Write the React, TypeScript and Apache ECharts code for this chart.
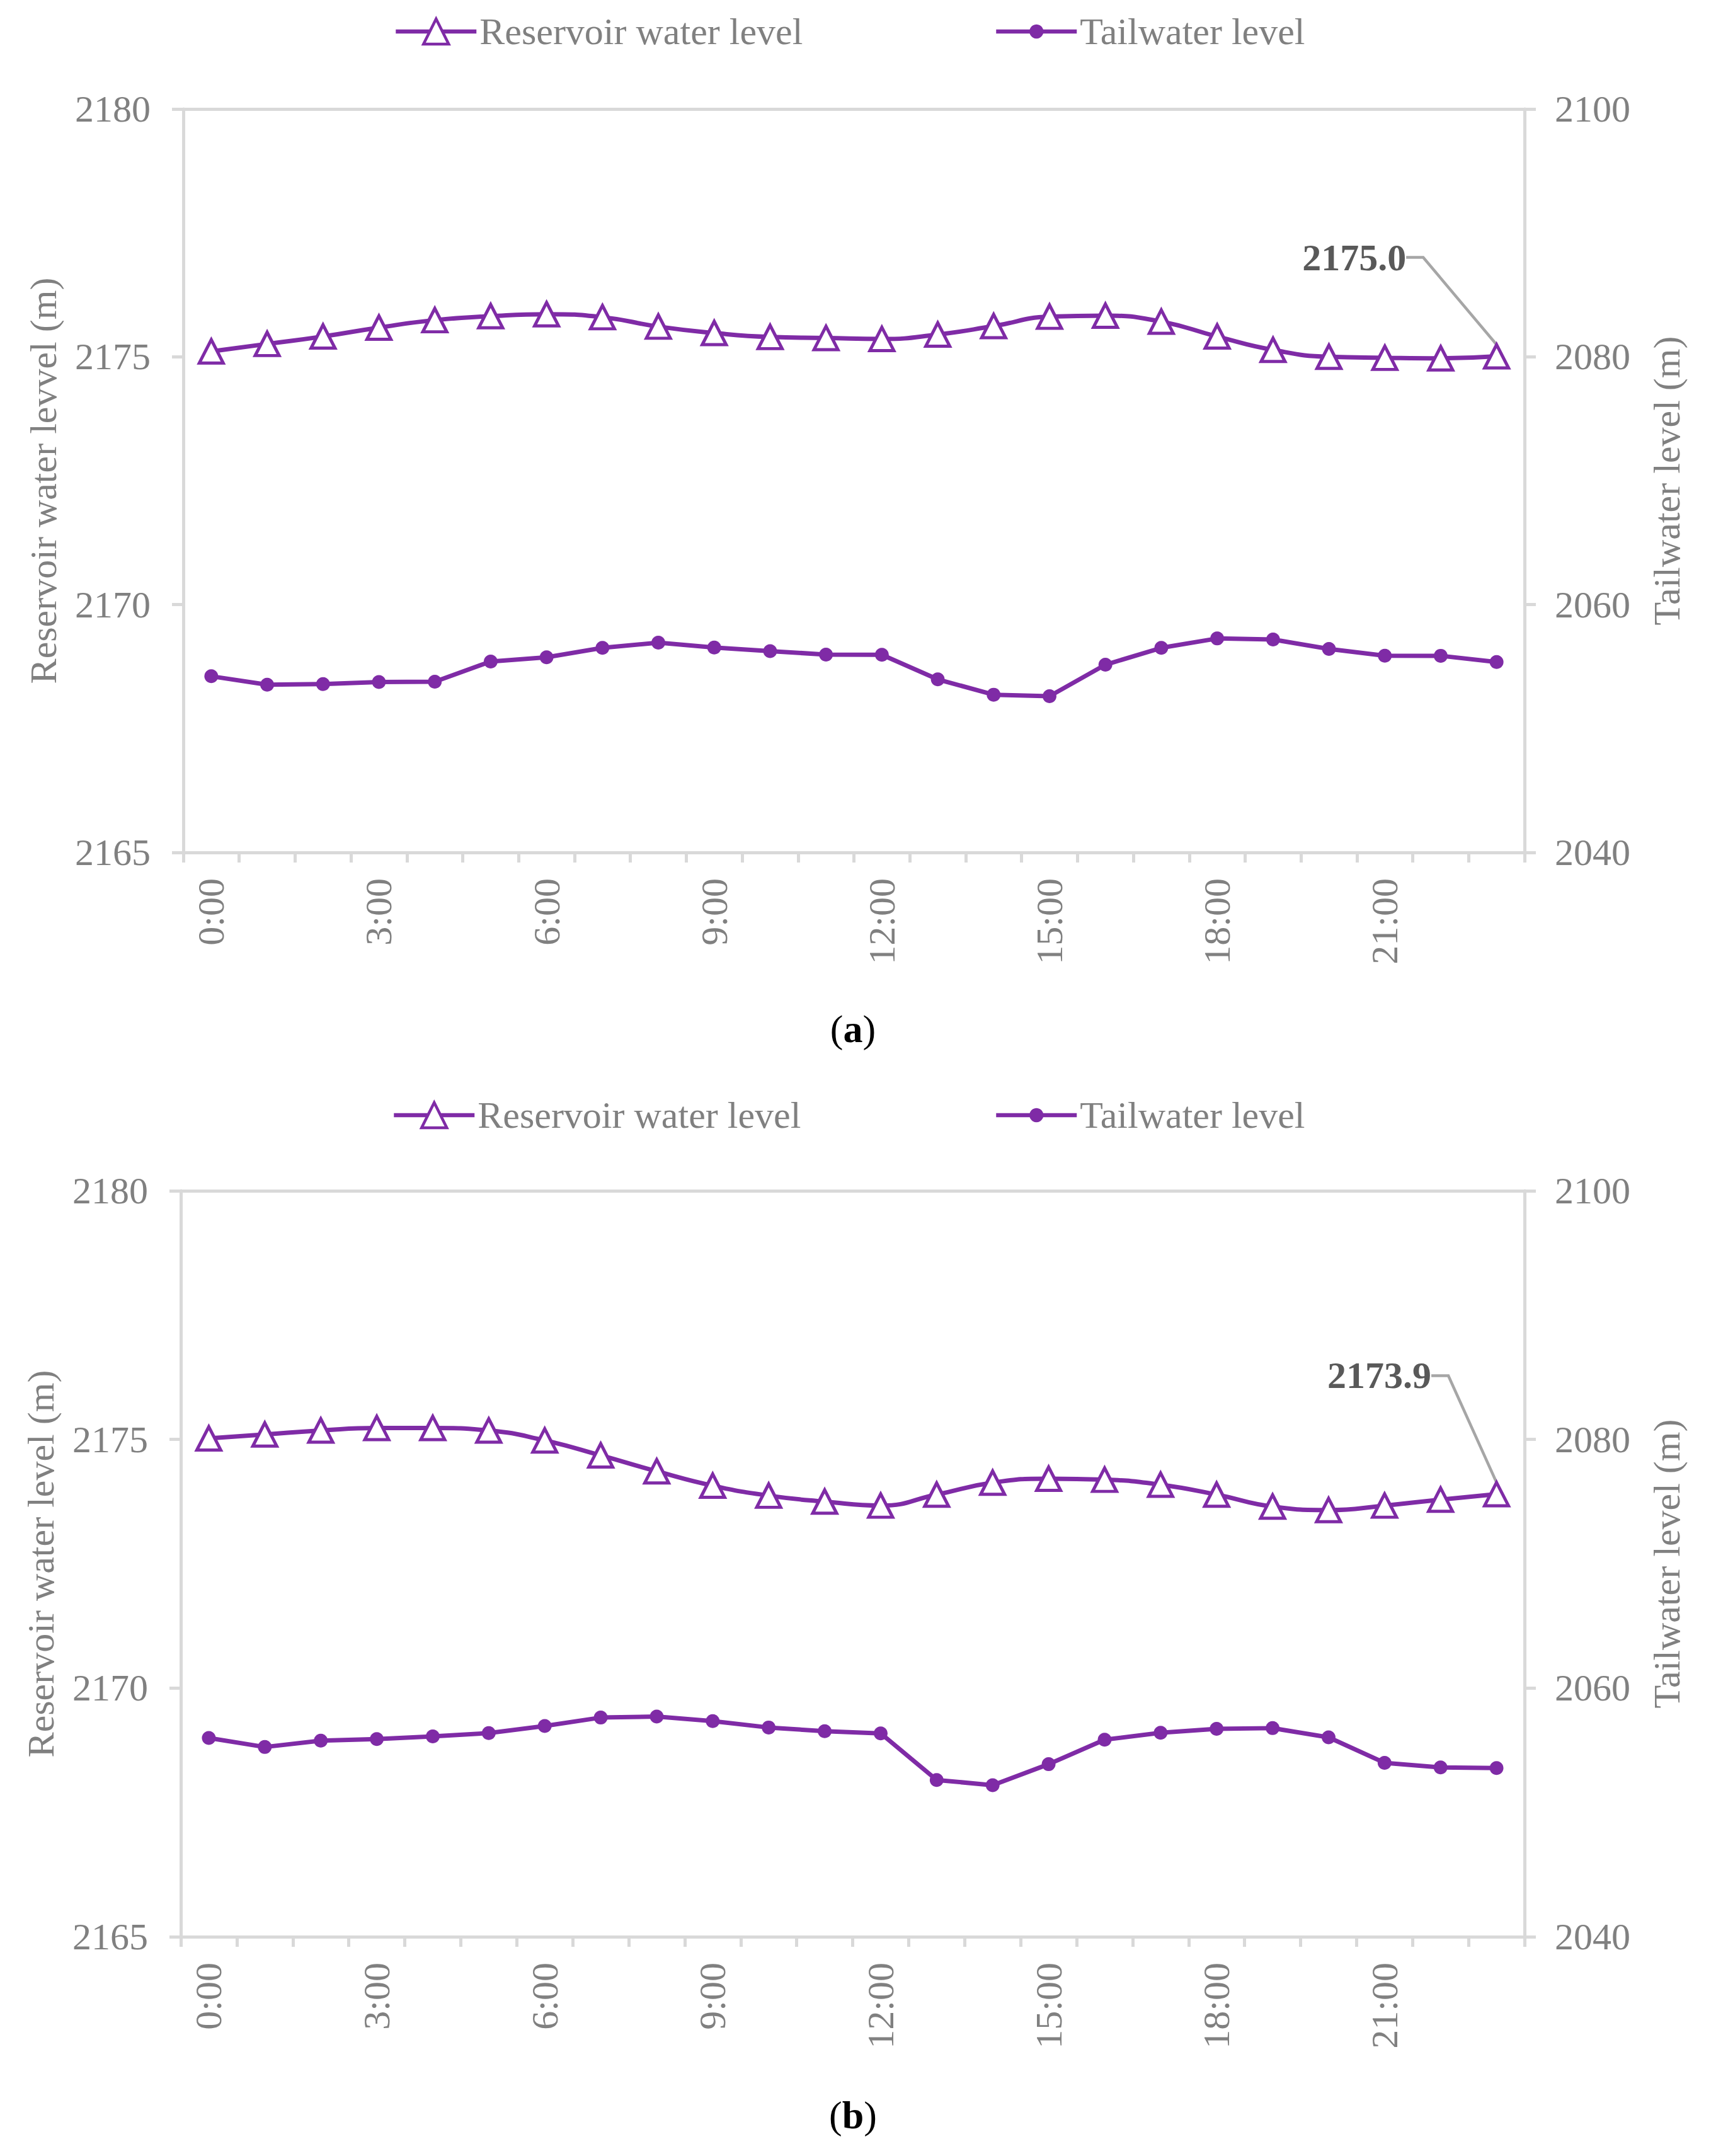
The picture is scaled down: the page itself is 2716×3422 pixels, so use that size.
import React, { useEffect, useRef } from "react";
import * as echarts from "echarts";

// ---------- data ----------
const hours = [
  "0:00", "1:00", "2:00", "3:00", "4:00", "5:00", "6:00", "7:00",
  "8:00", "9:00", "10:00", "11:00", "12:00", "13:00", "14:00", "15:00",
  "16:00", "17:00", "18:00", "19:00", "20:00", "21:00", "22:00", "23:00",
];

const reservoirA = [
  2175.11, 2175.26, 2175.41, 2175.59, 2175.74, 2175.82, 2175.86, 2175.8,
  2175.61, 2175.48, 2175.4, 2175.38, 2175.36, 2175.45, 2175.62, 2175.81,
  2175.83, 2175.71, 2175.41, 2175.14, 2175.0, 2174.98, 2174.97, 2175.01,
];
const tailwaterA = [
  2054.22, 2053.54, 2053.59, 2053.75, 2053.78, 2055.41, 2055.75, 2056.51,
  2056.93, 2056.54, 2056.25, 2055.97, 2055.95, 2053.97, 2052.73, 2052.61,
  2055.15, 2056.51, 2057.27, 2057.19, 2056.42, 2055.88, 2055.87, 2055.37,
];
const reservoirB = [
  2175.02, 2175.1, 2175.18, 2175.23, 2175.23, 2175.18, 2174.98, 2174.68,
  2174.36, 2174.07, 2173.87, 2173.75, 2173.67, 2173.89, 2174.13, 2174.21,
  2174.19, 2174.09, 2173.89, 2173.65, 2173.58, 2173.67, 2173.79, 2173.9,
];
const tailwaterB = [
  2055.99, 2055.26, 2055.77, 2055.9, 2056.11, 2056.38, 2056.95, 2057.63,
  2057.71, 2057.34, 2056.83, 2056.53, 2056.36, 2052.61, 2052.19, 2053.88,
  2055.85, 2056.41, 2056.72, 2056.78, 2056.04, 2053.99, 2053.62, 2053.57,
];

const leftTicks = { min: 2165, max: 2180, interval: 5 };
const rightTicks = { min: 2040, max: 2100, interval: 20 };

const seriesNames = ["Reservoir water level", "Tailwater level"];
const leftNames = ["Reservoir water levvel (m)", "Reservoir water level (m)"];
const rightName = "Tailwater level (m)";
const captions = ["a", "b"];

// ---------- style ----------
const FONT = "'Liberation Serif', 'Times New Roman', serif";
const PURPLE = "#7F2BA6";
const AXIS = "#D9D9D9";
const GRAY = "#808080";

const panels = [
  { top: 173, left: 291, height: 1180, legendY: 45, legendLeft: [620, 1573], captionY: 1633, labelDx: -216, labelDy: -157 },
  { top: 1890, left: 287, height: 1184, legendY: 1765, legendLeft: [617, 1573], captionY: 3357, labelDx: -176, labelDy: -188 },
];

function buildOption() {
  const resData = [reservoirA, reservoirB];
  const tailData = [tailwaterA, tailwaterB];
  const grid: any[] = [];
  const xAxis: any[] = [];
  const yAxis: any[] = [];
  const series: any[] = [];
  const legend: any[] = [];
  const graphic: any[] = [];

  panels.forEach((p, i) => {
    grid.push({ left: p.left, right: 296, top: p.top, height: p.height, containLabel: false });
    const axisLine = { show: true, lineStyle: { color: AXIS, width: 5 } };
    const labelStyle = { fontSize: 60, color: GRAY, fontFamily: FONT };
    xAxis.push({
      type: "category",
      gridIndex: i,
      position: "bottom",
      data: hours,
      boundaryGap: true,
      axisLine,
      axisTick: { show: true, interval: 0, length: 16, lineStyle: { color: AXIS, width: 5 } },
      axisLabel: { ...labelStyle, interval: 2, rotate: 90, margin: 41 },
      splitLine: { show: false },
    });
    xAxis.push({
      type: "category",
      gridIndex: i,
      position: "top",
      data: hours,
      boundaryGap: true,
      axisLine,
      axisTick: { show: false },
      axisLabel: { show: false },
      splitLine: { show: false },
    });
    yAxis.push({
      type: "value",
      gridIndex: i,
      position: "left",
      ...leftTicks,
      axisLine,
      axisTick: { show: true, length: 18, lineStyle: { color: AXIS, width: 5 } },
      splitLine: { show: false },
      axisLabel: { ...labelStyle, margin: 52, formatter: (v: number) => String(v) },
      name: leftNames[i],
      nameLocation: "middle",
      nameRotate: 90,
      nameGap: 192,
      nameTextStyle: labelStyle,
    });
    yAxis.push({
      type: "value",
      gridIndex: i,
      position: "right",
      ...rightTicks,
      axisLine,
      axisTick: { show: true, length: 18, lineStyle: { color: AXIS, width: 5 } },
      splitLine: { show: false },
      axisLabel: { ...labelStyle, margin: 48, formatter: (v: number) => String(v) },
      name: rightName,
      nameLocation: "middle",
      nameRotate: 90,
      nameGap: 196,
      nameTextStyle: labelStyle,
    });

    const res = resData[i];
    const last = res.length - 1;
    const leader = { show: true, length2: 27, lineStyle: { color: "#A6A6A6", width: 4.5 } };
    series.push({
      name: seriesNames[0],
      type: "line",
      xAxisIndex: 2 * i,
      yAxisIndex: 2 * i,
      smooth: 0.5,
      symbol: "triangle",
      symbolSize: [38, 37],
      itemStyle: { color: "#ffffff", borderColor: PURPLE, borderWidth: 5 },
      lineStyle: { color: PURPLE, width: 7 },
      z: 3,
      labelLayout: { dx: p.labelDx, dy: p.labelDy },
      labelLine: leader,
      data: res.map((v, k) =>
        k === last
          ? {
              value: v,
              label: {
                show: true,
                position: "inside",
                formatter: (q: any) => Number(q.value).toFixed(1),
                fontSize: 60,
                fontWeight: "bold",
                color: "#595959",
                fontFamily: FONT,
                padding: [0, 20, 0, 0],
              },
              labelLine: leader,
            }
          : v
      ),
    });
    series.push({
      name: seriesNames[1],
      type: "line",
      xAxisIndex: 2 * i,
      yAxisIndex: 2 * i + 1,
      symbol: "circle",
      symbolSize: 22,
      itemStyle: { color: PURPLE },
      lineStyle: { color: PURPLE, width: 7 },
      z: 3,
      data: tailData[i],
    });

    // one legend per entry so that each icon keeps its own marker size
    legend.push({
      top: p.legendY - 30,
      left: p.legendLeft[0],
      itemWidth: 128,
      itemHeight: 50,
      textStyle: { fontSize: 60, color: GRAY, fontFamily: FONT },
      lineStyle: { width: 6.5 },
      itemStyle: { borderWidth: 4.5 },
      data: [seriesNames[0]],
    });
    legend.push({
      top: p.legendY - 30,
      left: p.legendLeft[1],
      itemWidth: 128,
      itemHeight: 28,
      textStyle: { fontSize: 60, color: GRAY, fontFamily: FONT },
      lineStyle: { width: 6.5 },
      data: [seriesNames[1]],
    });

    graphic.push({
      type: "text",
      x: 1354,
      y: p.captionY,
      style: {
        text: `{p|(}{b|${captions[i]}}{p|)}`,
        textAlign: "center",
        textVerticalAlign: "middle",
        fill: "#000000",
        rich: {
          p: { fontSize: 62, fontFamily: FONT, fill: "#000000" },
          b: { fontSize: 62, fontFamily: FONT, fontWeight: "bold", fill: "#000000" },
        },
      },
    });
  });

  return {
    animation: false,
    backgroundColor: "#ffffff",
    grid,
    xAxis,
    yAxis,
    series,
    legend,
    graphic,
  };
}

export default function App() {
  const ref = useRef<HTMLDivElement>(null);
  useEffect(() => {
    if (!ref.current) return;
    const chart = echarts.init(ref.current, undefined, { renderer: "svg" });
    chart.setOption(buildOption() as any);
    return () => chart.dispose();
  }, []);
  return (
    <div
      ref={ref}
      style={{ position: "absolute", left: 0, top: 0, width: 2716, height: 3422, background: "#fff" }}
    />
  );
}
